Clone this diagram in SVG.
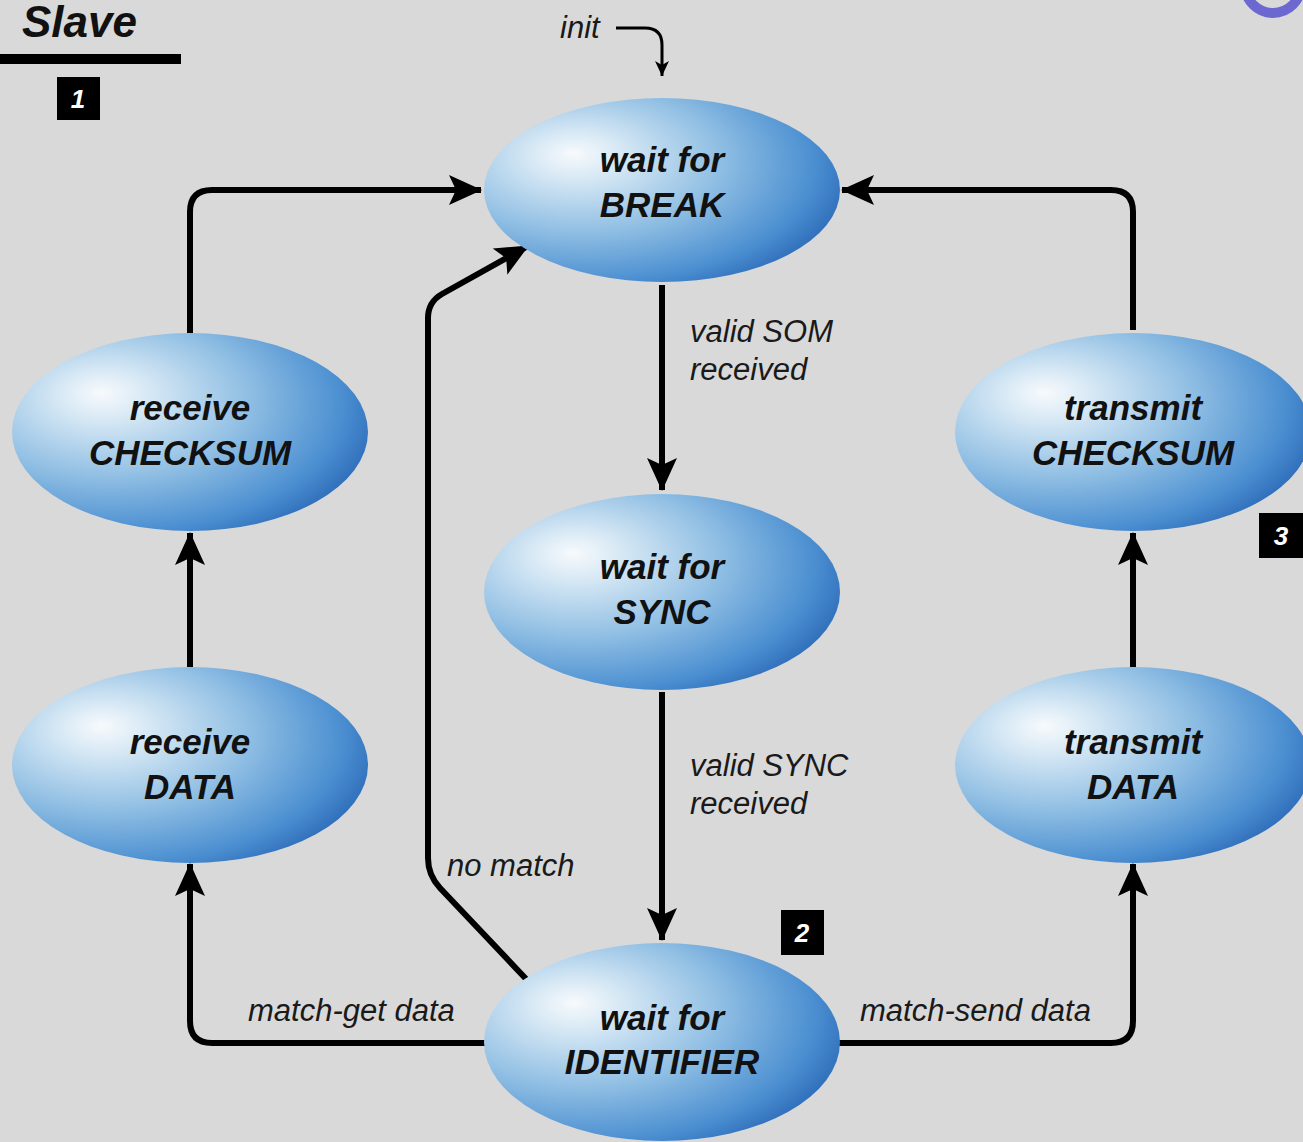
<svg xmlns="http://www.w3.org/2000/svg" width="1303" height="1142" viewBox="0 0 1303 1142">
  <defs>
    <radialGradient id="blob" cx="0.3" cy="0.38" r="0.82" fx="0.25" fy="0.3">
      <stop offset="0" stop-color="#f7fafc"/>
      <stop offset="0.15" stop-color="#d8e9f5"/>
      <stop offset="0.48" stop-color="#8fbee3"/>
      <stop offset="0.78" stop-color="#4b8fd1"/>
      <stop offset="1" stop-color="#1d58ab"/>
    </radialGradient>
    <marker id="head" markerUnits="userSpaceOnUse" markerWidth="34" markerHeight="32" refX="32" refY="16" orient="auto">
      <path d="M0,1 L33,16 L0,31 L7,16 z" fill="#000"/>
    </marker>
    <marker id="small" markerUnits="userSpaceOnUse" markerWidth="16" markerHeight="16" refX="15" refY="8" orient="auto">
      <path d="M0,1 L15,8 L0,15 L4,8 z" fill="#000"/>
    </marker>
    <style>
      .node { fill: url(#blob); }
      .ntxt { font-family: "Liberation Sans", Arial, sans-serif; font-weight: bold; font-style: italic; font-size: 35px; fill: #111; text-anchor: middle; }
      .lbl { font-family: "Liberation Sans", Arial, sans-serif; font-style: italic; font-size: 31px; fill: #1a1a1a; }
      .wire { fill: none; stroke: #000; stroke-width: 6; stroke-linejoin: round; marker-end: url(#head); }
      .tag { fill: #000; }
      .tagtxt { font-family: "Liberation Sans", Arial, sans-serif; font-weight: bold; font-style: italic; font-size: 26px; fill: #fff; text-anchor: middle; }
    </style>
  </defs>

  <rect width="1303" height="1142" fill="#d9d9d9"/>

  <!-- ring cut off at the top-right edge -->
  <circle cx="1273" cy="-15" r="28" fill="none" stroke="#6b69cf" stroke-width="10"/>

  <!-- title -->
  <g id="title">
    <text x="22" y="37" font-family="Liberation Sans, Arial, sans-serif" font-weight="bold" font-style="italic" font-size="44" fill="#111">Slave</text>
    <rect x="0" y="54" width="181" height="10" fill="#000"/>
  </g>

  <g id="tag1"><rect class="tag" x="57" y="77" width="43" height="43"/><text class="tagtxt" x="78" y="108">1</text></g>
  <g id="tag2"><rect class="tag" x="781" y="910" width="43" height="45"/><text class="tagtxt" x="802" y="942">2</text></g>
  <g id="tag3"><rect class="tag" x="1259" y="513" width="44" height="45"/><text class="tagtxt" x="1281" y="545">3</text></g>

  <!-- connectors -->
  <g id="connectors">
    <path class="wire" d="M662,285 V490"/>
    <path class="wire" d="M662,692 V940"/>
    <path class="wire" d="M190,333 V212 Q190,190 212,190 H481"/>
    <path class="wire" d="M1133,330 V212 Q1133,190 1111,190 H842"/>
    <path class="wire" d="M190,667 V533"/>
    <path class="wire" d="M1133,667 V533"/>
    <path class="wire" d="M486,1043 H212 Q190,1043 190,1021 V864"/>
    <path class="wire" d="M838,1043 H1111 Q1133,1043 1133,1021 V864"/>
    <path class="wire" d="M528,981 L440,888 Q428,875 428,858 V318 Q428,302 442,294 L528,246"/>
    <path d="M616,28 H645 Q662,28 662,45 V76" fill="none" stroke="#000" stroke-width="3" marker-end="url(#small)"/>
    <text class="lbl" x="560" y="38">init</text>
    <text class="lbl" x="690" y="342">valid SOM</text>
    <text class="lbl" x="690" y="380">received</text>
    <text class="lbl" x="690" y="776">valid SYNC</text>
    <text class="lbl" x="690" y="814">received</text>
    <text class="lbl" x="447" y="876">no match</text>
    <text class="lbl" x="248" y="1021">match-get data</text>
    <text class="lbl" x="860" y="1021">match-send data</text>
  </g>

  <!-- states -->
  <g id="wait-break">
    <ellipse class="node" cx="662" cy="190" rx="178" ry="92"/>
    <text class="ntxt" x="662" y="172">wait for</text>
    <text class="ntxt" x="662" y="217">BREAK</text>
  </g>
  <g id="wait-sync">
    <ellipse class="node" cx="662" cy="592" rx="178" ry="98"/>
    <text class="ntxt" x="662" y="579">wait for</text>
    <text class="ntxt" x="662" y="624">SYNC</text>
  </g>
  <g id="wait-identifier">
    <ellipse class="node" cx="662" cy="1042" rx="178" ry="99"/>
    <text class="ntxt" x="662" y="1030">wait for</text>
    <text class="ntxt" x="662" y="1074">IDENTIFIER</text>
  </g>
  <g id="receive-checksum">
    <ellipse class="node" cx="190" cy="432" rx="178" ry="99"/>
    <text class="ntxt" x="190" y="420">receive</text>
    <text class="ntxt" x="190" y="465">CHECKSUM</text>
  </g>
  <g id="receive-data">
    <ellipse class="node" cx="190" cy="765" rx="178" ry="98"/>
    <text class="ntxt" x="190" y="754">receive</text>
    <text class="ntxt" x="190" y="799">DATA</text>
  </g>
  <g id="transmit-checksum">
    <ellipse class="node" cx="1133" cy="432" rx="178" ry="99"/>
    <text class="ntxt" x="1133" y="420">transmit</text>
    <text class="ntxt" x="1133" y="465">CHECKSUM</text>
  </g>
  <g id="transmit-data">
    <ellipse class="node" cx="1133" cy="765" rx="178" ry="98"/>
    <text class="ntxt" x="1133" y="754">transmit</text>
    <text class="ntxt" x="1133" y="799">DATA</text>
  </g>
</svg>
